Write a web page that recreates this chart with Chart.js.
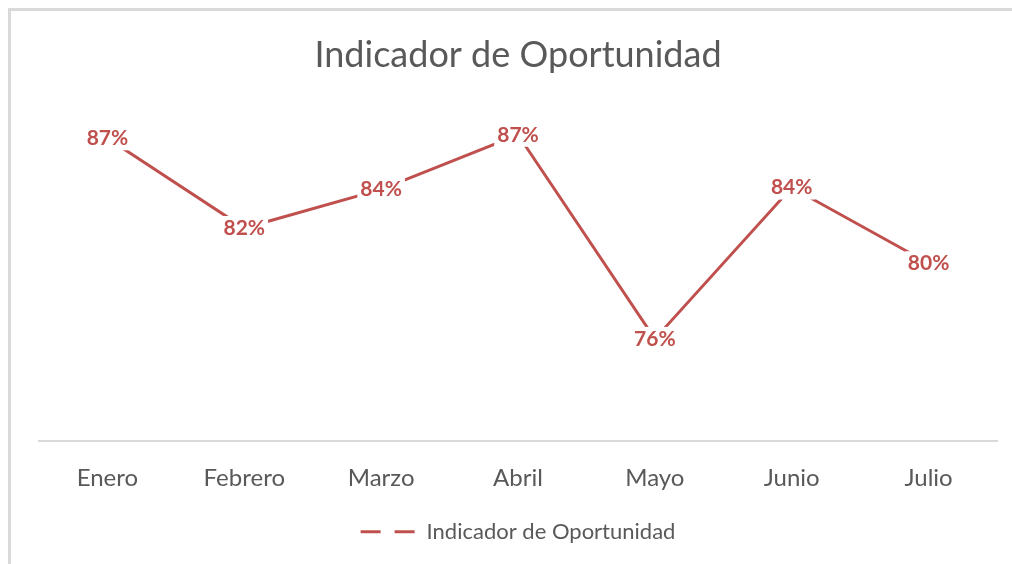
<!DOCTYPE html>
<html>
<head>
<meta charset="utf-8">
<script src="https://cdn.jsdelivr.net/npm/chart.js@4/dist/chart.umd.min.js"></script>
<style>
  html, body { margin: 0; padding: 0; background: #ffffff; overflow: hidden; width: 1012px; height: 564px; }
  .edge { position: absolute; background: #d9d9d9; }
  #edgeL { left: 8px; top: 8px; width: 3px; height: 556px; }
  #edgeT { left: 8px; top: 8px; width: 1004px; height: 3px; }
  #c { position: absolute; left: 0; top: 0; }
</style>
</head>
<body>
<div class="edge" id="edgeL"></div>
<div class="edge" id="edgeT"></div>
<canvas id="c" width="1012" height="564"></canvas>
<script>
// ---- data ----
const chartTitle = 'Indicador de Oportunidad';
const categories = ['Enero', 'Febrero', 'Marzo', 'Abril', 'Mayo', 'Junio', 'Julio'];
const indicadorValues = [0.872, 0.821, 0.843, 0.874, 0.758, 0.844, 0.801];
const seriesName = 'Indicador de Oportunidad';
const yMin = 0.7;
const yMax = 0.9;

const RED = '#c0504d';
const GREY = '#595959';
const FONT = 'Lato';

const dataLabelPlugin = {
  id: 'dataLabels',
  afterDatasetsDraw(chart) {
    const ctx = chart.ctx;
    const meta = chart.getDatasetMeta(0);
    const ds = chart.data.datasets[0];
    ctx.save();
    ctx.font = 'bold 21px ' + FONT;
    ctx.textAlign = 'center';
    ctx.textBaseline = 'middle';
    meta.data.forEach((pt, i) => {
      const txt = Math.round(ds.data[i] * 100) + '%';
      const w = ctx.measureText(txt).width + 6;
      const h = 24;
      ctx.fillStyle = '#ffffff';
      ctx.fillRect(pt.x - w / 2, pt.y - h / 2, w, h);
      ctx.fillStyle = RED;
      ctx.fillText(txt, pt.x, pt.y);
    });
    ctx.restore();
  }
};

function build() {
  Chart.defaults.font.family = FONT;
  new Chart(document.getElementById('c'), {
    type: 'line',
    data: {
      labels: categories,
      datasets: [{
        label: seriesName,
        data: indicadorValues,
        borderColor: RED,
        backgroundColor: RED,
        borderWidth: 3,
        borderCapStyle: 'round',
        tension: 0,
        pointRadius: 0,
        pointHoverRadius: 0,
        fill: false
      }]
    },
    options: {
      responsive: false,
      devicePixelRatio: 1,
      animation: false,
      events: [],
      layout: { padding: { left: 39, right: 15, top: 0, bottom: 11.2 } },
      plugins: {
        title: {
          display: true,
          text: chartTitle,
          color: GREY,
          font: { family: FONT, size: 36, weight: 'normal', lineHeight: 1.2 },
          padding: { top: 33.4, bottom: 12.4 }
        },
        legend: {
          display: true,
          position: 'bottom',
          labels: {
            color: GREY,
            font: { family: FONT, size: 22, lineHeight: 1.2 },
            padding: 10,
            usePointStyle: true,
            pointStyleWidth: 55,
            generateLabels(chart) {
              return [{
                text: seriesName,
                fillStyle: RED,
                strokeStyle: RED,
                lineWidth: 3,
                lineDash: [20, 14],
                pointStyle: 'line',
                hidden: false,
                datasetIndex: 0,
                fontColor: GREY
              }];
            }
          }
        },
        tooltip: { enabled: false }
      },
      scales: {
        x: {
          offset: true,
          grid: { display: false, drawTicks: false },
          border: { display: true, color: '#d9d9d9', width: 2 },
          ticks: {
            color: GREY,
            font: { family: FONT, size: 24, lineHeight: 1.2 },
            padding: 22.6,
            maxRotation: 0
          },
          afterFit(scale) { scale.height = 69.8; }
        },
        y: {
          display: false,
          min: yMin,
          max: yMax
        }
      }
    },
    plugins: [dataLabelPlugin]
  });
}

Promise.all([
  document.fonts.load('36px Lato'),
  document.fonts.load('bold 21px Lato'),
  document.fonts.load('24px Lato')
]).catch(() => {}).then(build);
</script>
</body>
</html>
